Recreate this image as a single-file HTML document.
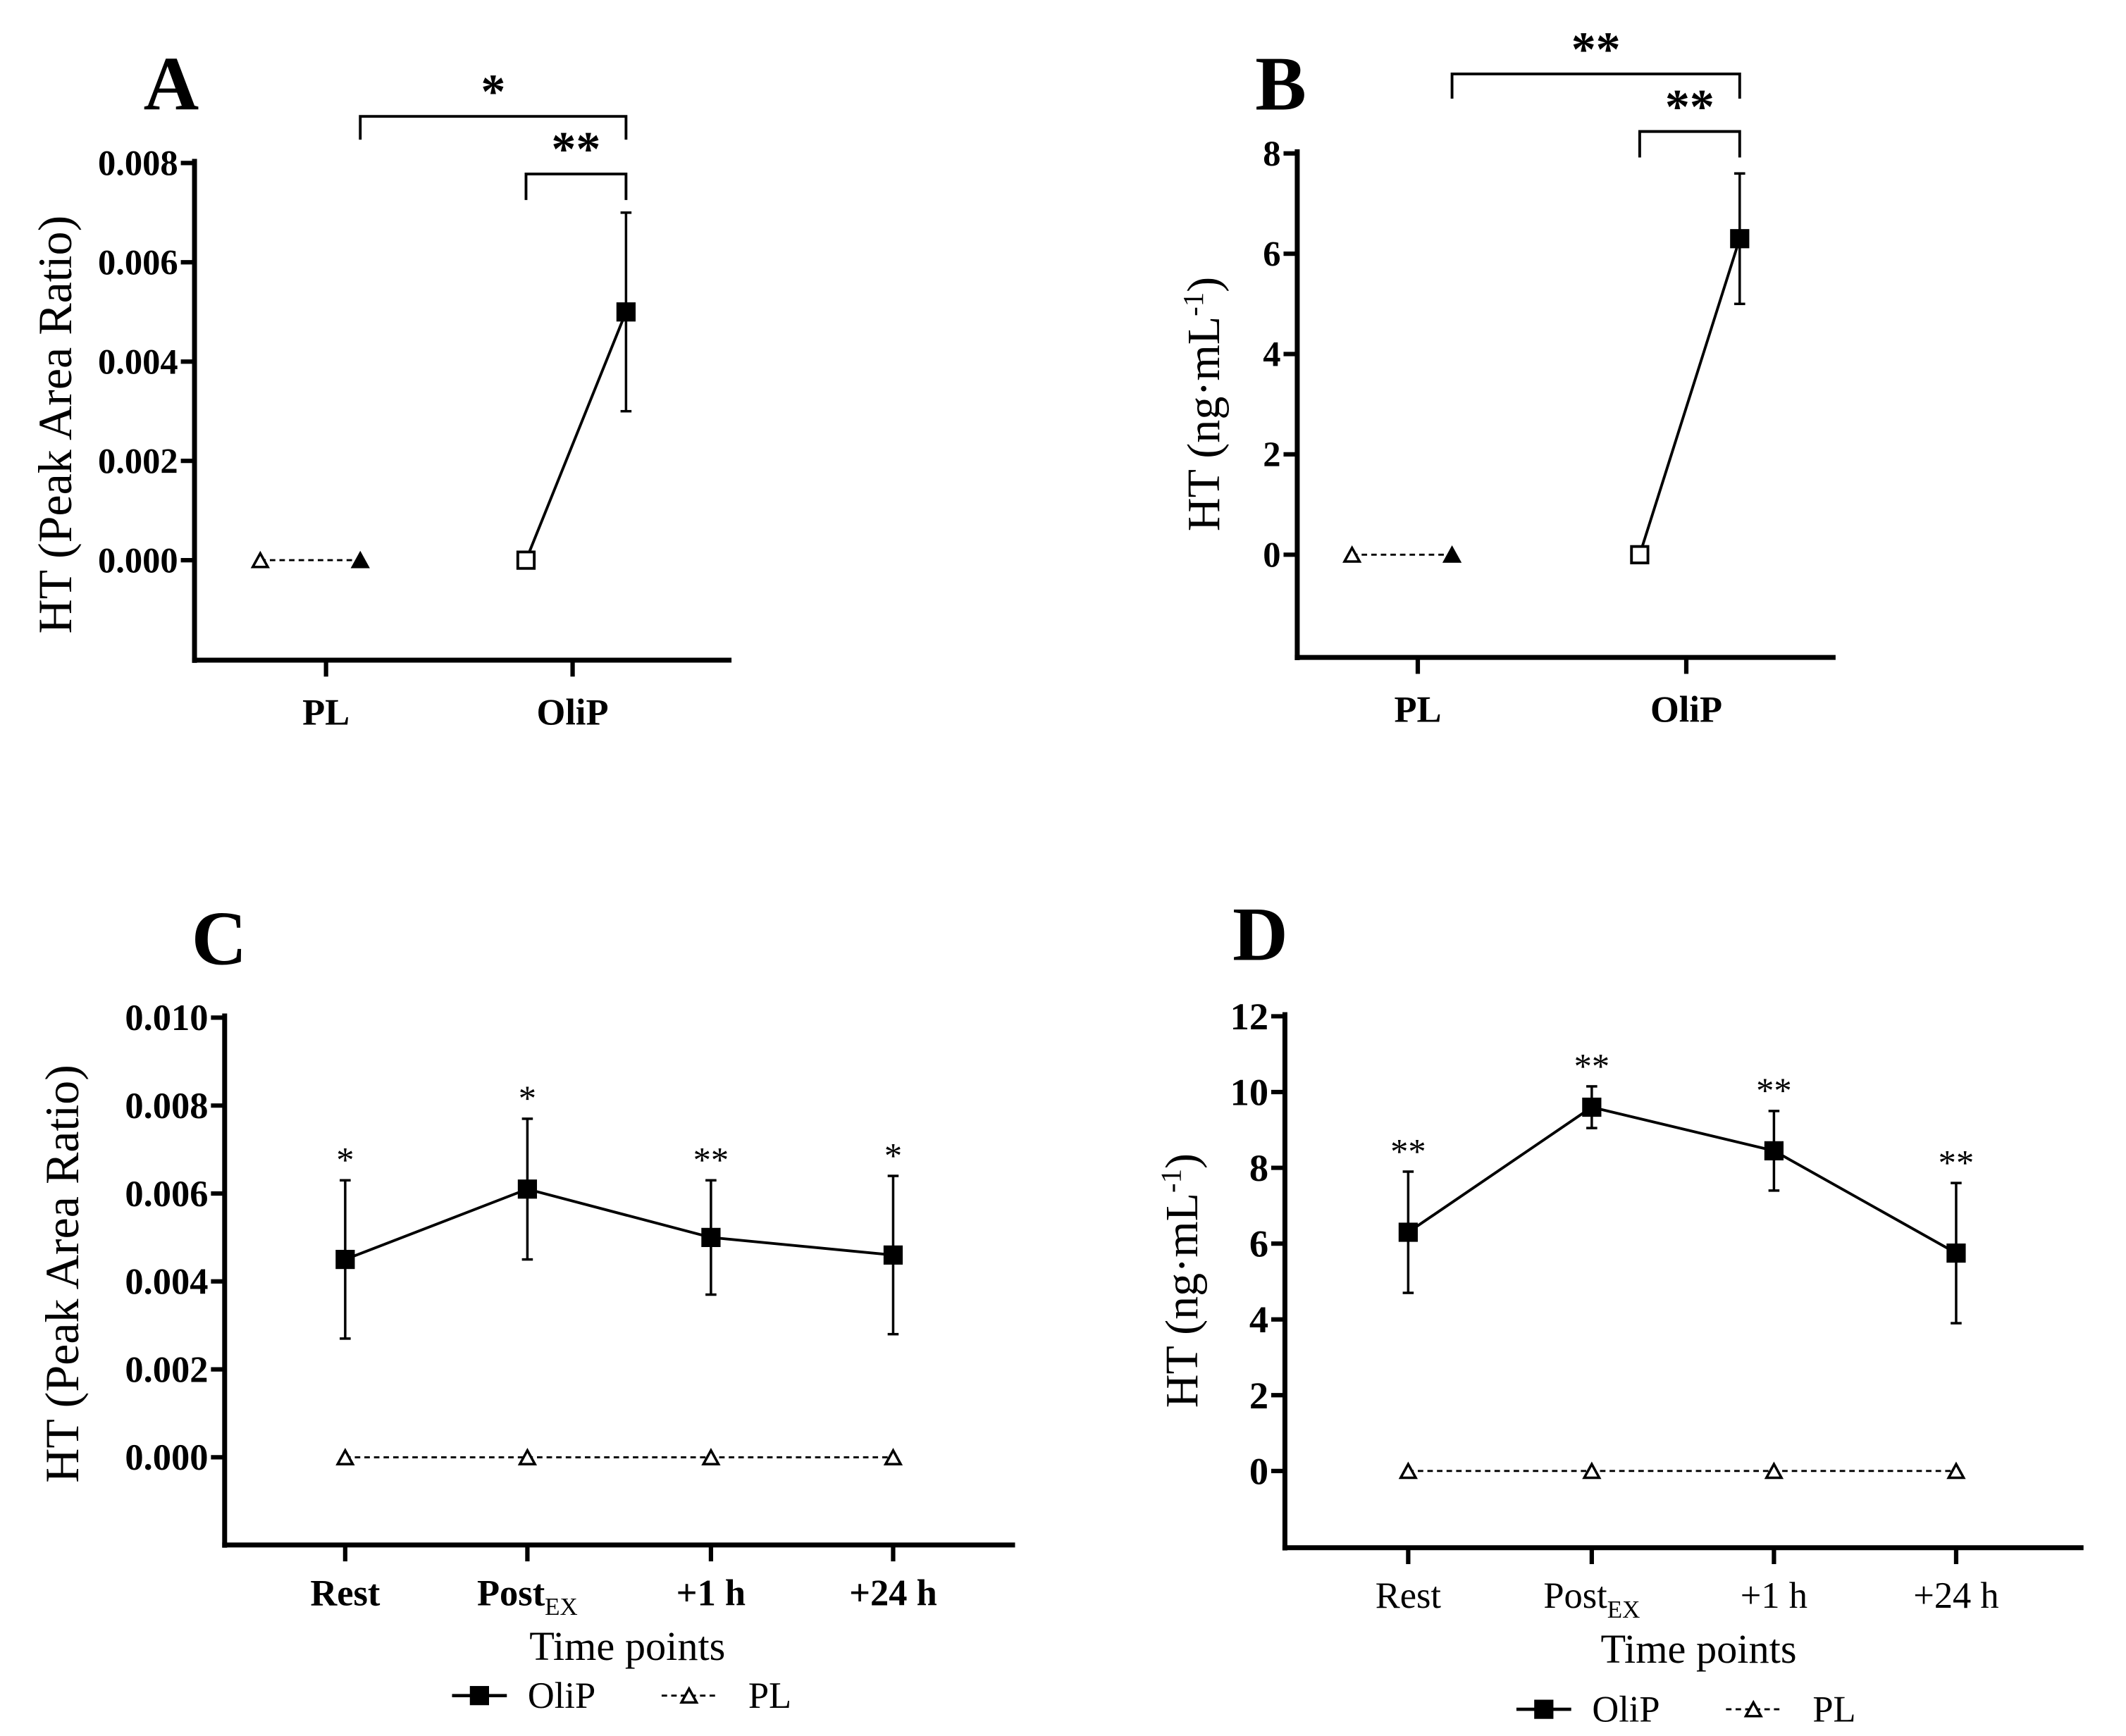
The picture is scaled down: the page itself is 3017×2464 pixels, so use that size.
<!DOCTYPE html>
<html><head><meta charset="utf-8"><style>
html,body{margin:0;padding:0;background:#fff;}
svg{display:block;}
text{font-family:"Liberation Serif",serif;fill:#000;}
</style></head><body>
<svg id="fig" width="3017" height="2464" viewBox="0 0 1552 1267.5" preserveAspectRatio="none" xmlns="http://www.w3.org/2000/svg"></svg>
<script>
// Panel A data
const aCats = ["PL", "OliP"];
const aPre = [0, 0];
const aPost = [0, 0.005];
const aPostErr = [0, 0.002];
const aTicks = [0, 0.002, 0.004, 0.006, 0.008];
const aTickLabels = ["0.000", "0.002", "0.004", "0.006", "0.008"];
// Panel B data
const bCats = ["PL", "OliP"];
const bPre = [0, 0];
const bPost = [0, 6.3];
const bPostErr = [0, 1.3];
const bTicks = [0, 2, 4, 6, 8];
const bTickLabels = ["0", "2", "4", "6", "8"];
// Panel C data
const timeCats = ["Rest", "Post", "+1 h", "+24 h"];
const cOliP = [0.0045, 0.0061, 0.0050, 0.0046];
const cOliPErr = [0.0018, 0.0016, 0.0013, 0.0018];
const cPL = [0, 0, 0, 0];
const cStars = ["*", "*", "**", "*"];
const cTicks = [0, 0.002, 0.004, 0.006, 0.008, 0.010];
const cTickLabels = ["0.000", "0.002", "0.004", "0.006", "0.008", "0.010"];
// Panel D data
const dOliP = [6.3, 9.6, 8.45, 5.75];
const dOliPErr = [1.6, 0.55, 1.05, 1.85];
const dPL = [0, 0, 0, 0];
const dStars = ["**", "**", "**", "**"];
const dTicks = [0, 2, 4, 6, 8, 10, 12];
const dTickLabels = ["0", "2", "4", "6", "8", "10", "12"];

const svg = document.getElementById('fig');
const NS = 'http://www.w3.org/2000/svg';
function mk(tag, attrs, parent) {
  const e = document.createElementNS(NS, tag);
  for (const k in attrs) e.setAttribute(k, attrs[k]);
  (parent || svg).appendChild(e);
  return e;
}
function txt(s, x, y, size, weight, anchor, parent) {
  const t = mk('text', {x: x, y: y, 'font-size': size, 'font-weight': weight, 'text-anchor': anchor || 'middle'}, parent);
  t.textContent = s;
  return t;
}
function line(x1, y1, x2, y2, w, dash, parent) {
  return mk('line', {x1: x1, y1: y1, x2: x2, y2: y2, stroke: '#000', 'stroke-width': w, 'stroke-dasharray': dash || 'none'}, parent);
}
function square(x, y, filled, parent) {
  return mk('rect', {x: x - 6, y: y - 6, width: 12, height: 12, fill: filled ? '#000' : '#fff', stroke: '#000', 'stroke-width': 2}, parent);
}
function tri(x, y, filled, parent) {
  return mk('polygon', {points: (x) + ',' + (y - 6) + ' ' + (x - 5.5) + ',' + (y + 4) + ' ' + (x + 5.5) + ',' + (y + 4), fill: filled ? '#000' : '#fff', stroke: '#000', 'stroke-width': 1.8}, parent);
}
function yAxisFn(v0y, v0, v1y, v1) { return v => v0y + (v - v0) * (v1y - v0y) / (v1 - v0); }

function axes(g, ax, ay, axEnd, axTop, ticks, labels, yf, catX, tickBold, tickSize) {
  line(ax, axTop, ax, ay + 2, 3.6, null, g);
  line(ax - 1.8, ay, axEnd, ay, 3.6, null, g);
  ticks.forEach((v, i) => {
    const y = yf(v);
    const tk = line(ax - 10, y, ax, y, 3.2, null, g);
    
    
    const t = txt(labels[i], ax - 12, y + tickSize * 0.34, tickSize, tickBold ? 'bold' : 'normal', 'end', g);
    
    
  });
  catX.forEach(x => {
    const tk = line(x, ay, x, ay + 12, 3.2, null, g);
    
    
  });
}

// ---------- Panel A / B (pre-post) ----------
function prePost(name, letter, cfg) {
  const g = mk('g', {});
  
  
  const yf = yAxisFn(cfg.y0px, 0, cfg.ytopPx, cfg.ytopVal);
  axes(g, cfg.ax, cfg.ay, cfg.axEnd, cfg.ytopPx - 3, cfg.ticks, cfg.labels, yf, cfg.catX, true, 26);
  const L = txt(letter, cfg.letterX, cfg.letterY, 56, 'bold', 'middle', g);
  
  
  cfg.cats.forEach((c, i) => {
    const t = txt(c, cfg.catX[i], cfg.ay + 47, 27, 'bold', 'middle', g);
    
    
  });
  const xPre0 = cfg.catX[0] - 48, xPost0 = cfg.catX[0] + 25;
  const pl = line(xPre0, yf(cfg.pre[0]), xPost0, yf(cfg.post[0]), 1.5, '4,3', g);
  
  
  tri(xPre0, yf(cfg.pre[0]) + 1, false, g);
  tri(xPost0, yf(cfg.post[0]) + 1, true, g);
  const xPre1 = cfg.catX[1] - 34, xPost1 = cfg.catX[1] + 39;
  const eb = line(xPost1, yf(cfg.post[1] + cfg.err[1]), xPost1, yf(cfg.post[1] - cfg.err[1]), 1.8, null, g);
  
  
  line(xPost1 - 4, yf(cfg.post[1] + cfg.err[1]), xPost1 + 4, yf(cfg.post[1] + cfg.err[1]), 1.8, null, g);
  line(xPost1 - 4, yf(cfg.post[1] - cfg.err[1]), xPost1 + 4, yf(cfg.post[1] - cfg.err[1]), 1.8, null, g);
  const ol = line(xPre1, yf(cfg.pre[1]), xPost1, yf(cfg.post[1]), 2, null, g);
  
  
  square(xPre1, yf(cfg.pre[1]), false, g);
  square(xPost1, yf(cfg.post[1]), true, g);
  const b1 = mk('polyline', {points: xPost0 + ',' + cfg.b1y2 + ' ' + xPost0 + ',' + cfg.b1y + ' ' + xPost1 + ',' + cfg.b1y + ' ' + xPost1 + ',' + cfg.b1y2, fill: 'none', stroke: '#000', 'stroke-width': 2}, g);
  
  
  const s1 = txt(cfg.s1, (xPost0 + xPost1) / 2, cfg.b1y - 6, 36, 'bold', 'middle', g);
  
  
  const b2 = mk('polyline', {points: xPre1 + ',' + cfg.b2y2 + ' ' + xPre1 + ',' + cfg.b2y + ' ' + xPost1 + ',' + cfg.b2y + ' ' + xPost1 + ',' + cfg.b2y2, fill: 'none', stroke: '#000', 'stroke-width': 2}, g);
  
  
  const s2 = txt(cfg.s2, (xPre1 + xPost1) / 2, cfg.b2y - 6, 36, 'bold', 'middle', g);
  
  
  return g;
}

const gA = prePost('panel-a', 'A', {ax: 142, ay: 482, axEnd: 534, y0px: 409, ytopPx: 119, ytopVal: 0.008,
  ticks: aTicks, labels: aTickLabels, catX: [238, 418], cats: aCats, pre: aPre, post: aPost, err: aPostErr,
  letterX: 125, letterY: 80, b1y: 85, b1y2: 102, b2y: 127, b2y2: 146, s1: '*', s2: '**'});
const ytA = txt('HT (Peak Area Ratio)', 0, 0, 35, 'normal', 'middle', gA);
ytA.setAttribute('transform', 'translate(52,310) rotate(-90)');



const gB = prePost('panel-b', 'B', {ax: 947, ay: 480, axEnd: 1340, y0px: 405, ytopPx: 112, ytopVal: 8,
  ticks: bTicks, labels: bTickLabels, catX: [1035, 1231], cats: bCats, pre: bPre, post: bPost, err: bPostErr,
  letterX: 935, letterY: 80, b1y: 54, b1y2: 72, b2y: 96, b2y2: 115, s1: '**', s2: '**'});
const ytB = mk('text', {transform: 'translate(890,295) rotate(-90)', 'font-size': 34, 'text-anchor': 'middle'}, gB);
ytB.innerHTML = 'HT (ng·mL<tspan dy="-12" font-size="21">-1</tspan><tspan dy="12">)</tspan>';



// ---------- Panel C / D (time course) ----------
function timeCourse(name, letter, cfg) {
  const g = mk('g', {});
  
  
  const yf = yAxisFn(cfg.y0px, 0, cfg.ytopPx, cfg.ytopVal);
  axes(g, cfg.ax, cfg.ay, cfg.axEnd, cfg.ytopPx - 3, cfg.ticks, cfg.labels, yf, cfg.catX, true, cfg.tickSize);
  const L = txt(letter, cfg.letterX, cfg.letterY, 56, 'bold', 'middle', g);
  
  
  timeCats.forEach((c, i) => {
    const t = mk('text', {x: cfg.catX[i], y: cfg.ay + 44, 'font-size': 27, 'font-weight': cfg.catBold ? 'bold' : 'normal', 'text-anchor': 'middle'}, g);
    if (c === 'Post') t.innerHTML = 'Post<tspan font-size="18" font-weight="normal" dy="7">EX</tspan>';
    else t.textContent = c;
    
    
  });
  const xt = txt('Time points', cfg.titleX, cfg.ay + 84, 30, 'normal', 'middle', g);
  
  
  const plPts = cfg.pl.map((v, i) => cfg.catX[i] + ',' + yf(v)).join(' ');
  const pll = mk('polyline', {points: plPts, fill: 'none', stroke: '#000', 'stroke-width': 1.5, 'stroke-dasharray': '4,3'}, g);
  
  
  cfg.pl.forEach((v, i) => {
    const p = tri(cfg.catX[i], yf(v) + 1, false, g);
    
    
  });
  cfg.olip.forEach((v, i) => {
    const x = cfg.catX[i], top = yf(v + cfg.err[i]), bot = yf(v - cfg.err[i]);
    const e = line(x, top, x, bot, 1.8, null, g);
    
    
    line(x - 4, top, x + 4, top, 1.8, null, g);
    line(x - 4, bot, x + 4, bot, 1.8, null, g);
    const s = txt(cfg.stars[i], x, top - 6, 26, 'normal', 'middle', g);
    
    
  });
  const olPts = cfg.olip.map((v, i) => cfg.catX[i] + ',' + yf(v)).join(' ');
  const oll = mk('polyline', {points: olPts, fill: 'none', stroke: '#000', 'stroke-width': 2}, g);
  
  
  cfg.olip.forEach((v, i) => {
    const p = square(cfg.catX[i], yf(v), true, g);
    
    
  });
  const lg = mk('g', {}, g);
  
  
  const lx = cfg.legX, ly = cfg.legY;
  line(lx, ly, lx + 40, ly, 2.4, null, lg);
  square(lx + 20, ly, true, lg);
  const t1 = txt('OliP', lx + 80, ly + 9, 27, 'normal', 'middle', lg);
  
  
  line(lx + 153, ly, lx + 193, ly, 1.5, '4,3', lg);
  tri(lx + 173, ly + 1, false, lg);
  const t2 = txt('PL', lx + 232, ly + 9, 27, 'normal', 'middle', lg);
  
  
  return g;
}

const gC = timeCourse('panel-c', 'C', {ax: 164, ay: 1128, axEnd: 741, y0px: 1064, ytopPx: 743, ytopVal: 0.010,
  ticks: cTicks, labels: cTickLabels, catX: [252, 385, 519, 652], olip: cOliP, err: cOliPErr, pl: cPL, stars: cStars,
  letterX: 160, letterY: 704, tickSize: 27, catBold: true, titleX: 458, legX: 330, legY: 1238});
const ytC = txt('HT (Peak Area Ratio)', 0, 0, 35, 'normal', 'middle', gC);
ytC.setAttribute('transform', 'translate(57,930) rotate(-90)');



const gD = timeCourse('panel-d', 'D', {ax: 938, ay: 1130, axEnd: 1521, y0px: 1074, ytopPx: 742, ytopVal: 12,
  ticks: dTicks, labels: dTickLabels, catX: [1028, 1162, 1295, 1428], olip: dOliP, err: dOliPErr, pl: dPL, stars: dStars,
  letterX: 920, letterY: 701, tickSize: 28, catBold: false, titleX: 1240, legX: 1107, legY: 1248});
const ytD = mk('text', {transform: 'translate(874,935) rotate(-90)', 'font-size': 34, 'text-anchor': 'middle'}, gD);
ytD.innerHTML = 'HT (ng·mL<tspan dy="-12" font-size="21">-1</tspan><tspan dy="12">)</tspan>';


</script>
</body></html>
